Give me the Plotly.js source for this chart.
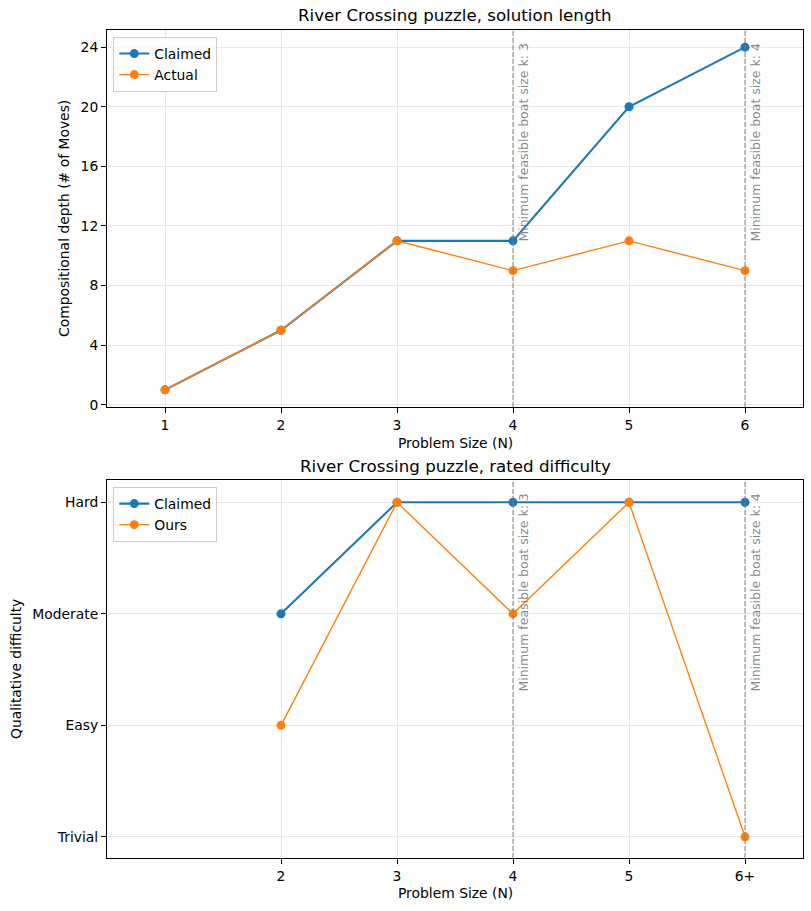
<!DOCTYPE html>
<html>
<head>
<meta charset="utf-8">
<script src="https://cdn.plot.ly/plotly-3.0.1.min.js"></script>
<style>
  html, body { margin: 0; padding: 0; background: #ffffff; }
  #chart { width: 811px; height: 911px; }
</style>
</head>
<body>
<div id="chart"></div>
<script>
// Solution length (number of moves) per problem size
const problemSizes = [1, 2, 3, 4, 5, 6];
const claimedMoves = [1, 5, 11, 11, 20, 24];
const actualMoves = [1, 5, 11, 9, 11, 9];

// Qualitative difficulty per problem size (0 = Trivial ... 3 = Hard)
const difficultySizes = [2, 3, 4, 5, 6];
const difficultySizeLabels = ['2', '3', '4', '5', '6+'];
const difficultyLevels = [0, 1, 2, 3];
const difficultyLabels = ['Trivial', 'Easy', 'Moderate', 'Hard'];
const claimedDifficulty = [2, 3, 3, 3, 3];
const oursDifficulty = [1, 3, 2, 3, 0];

// Sizes where the minimum feasible boat capacity changes
const boatThresholds = [4, 6];
const boatCapacities = [3, 4];

const depthTicks = [0, 4, 8, 12, 16, 20, 24];

const BLUE = '#1f77b4';
const ORANGE = '#ff7f0e';
const FONT = 'DejaVu Sans, sans-serif';
const GRID = '#e6e6e6';
const REFGRAY = 'rgba(128,128,128,0.8)';
const PT = 100 / 72;   // pixels per point
const MARKER = 9;

const traces = [
  {x: problemSizes, y: claimedMoves, name: 'Claimed', mode: 'lines+markers',
   line: {color: BLUE, width: 1.5 * PT}, marker: {color: BLUE, size: MARKER},
   xaxis: 'x', yaxis: 'y', legend: 'legend'},
  {x: problemSizes, y: actualMoves, name: 'Actual', mode: 'lines+markers',
   line: {color: ORANGE, width: 1 * PT}, marker: {color: ORANGE, size: MARKER},
   xaxis: 'x', yaxis: 'y', legend: 'legend'},
  {x: difficultySizes, y: claimedDifficulty, name: 'Claimed', mode: 'lines+markers',
   line: {color: BLUE, width: 1.5 * PT}, marker: {color: BLUE, size: MARKER},
   xaxis: 'x2', yaxis: 'y2', legend: 'legend2'},
  {x: difficultySizes, y: oursDifficulty, name: 'Ours', mode: 'lines+markers',
   line: {color: ORANGE, width: 1 * PT}, marker: {color: ORANGE, size: MARKER},
   xaxis: 'x2', yaxis: 'y2', legend: 'legend2'}
];

const axisCommon = {
  showline: true, linecolor: '#000', linewidth: 1, mirror: true,
  ticks: 'outside', ticklen: 5, tickwidth: 1, tickcolor: '#000',
  showgrid: true, gridcolor: GRID, gridwidth: 1, zeroline: false,
  tickfont: {family: FONT, size: 10 * PT, color: '#000'}
};

const shapes = [];
const annotations = [];
['x', 'x2'].forEach((xr, i) => {
  const yr = i === 0 ? 'y domain' : 'y2 domain';
  boatThresholds.forEach((t, j) => {
    shapes.push({type: 'line', xref: xr, yref: yr, x0: t, x1: t, y0: 0, y1: 1,
      line: {color: REFGRAY, width: 1.2, dash: '5px,2px'}, layer: 'above'});
    annotations.push({xref: xr, yref: yr, x: t, y: 0.968, xanchor: 'left', yanchor: 'top',
      xshift: 1, textangle: -90, showarrow: false,
      text: 'Minimum feasible boat size k: ' + boatCapacities[j],
      font: {family: FONT, size: 9 * PT, color: 'rgba(128,128,128,0.95)'}});
  });
});

const textAnn = (text, x, y, size, angle) => ({
  xref: 'paper', yref: 'paper', x: x, y: y, xanchor: 'center', yanchor: 'middle',
  text: text, showarrow: false, textangle: angle || 0,
  font: {family: FONT, size: size, color: '#000'}
});
annotations.push(
  textAnn('River Crossing puzzle, solution length', 0.5, 1.0175, 12 * PT),
  textAnn('River Crossing puzzle, rated difficulty', 0.5, 0.4734, 12 * PT),
  textAnn('Problem Size (N)', 0.5, 0.5012, 10 * PT),
  textAnn('Problem Size (N)', 0.5, -0.0423, 10 * PT),
  textAnn('Compositional depth (# of Moves)', -0.0618, 0.7729, 10 * PT, -90),
  textAnn('Qualitative difficulty', -0.1307, 0.2283, 10 * PT, -90)
);

const legendCommon = {
  x: 0.009, xanchor: 'left', yanchor: 'top',
  bgcolor: 'rgba(255,255,255,0.8)', bordercolor: '#cccccc', borderwidth: 1,
  font: {family: FONT, size: 10 * PT, color: '#000'}, tracegroupgap: 0
};

const layout = {
  width: 811, height: 911,
  margin: {l: 107, r: 8, t: 30, b: 53},
  paper_bgcolor: '#fff', plot_bgcolor: '#fff',
  font: {family: FONT, color: '#000'},
  showlegend: true,
  xaxis: Object.assign({}, axisCommon, {domain: [0, 1], range: [0.5, 6.5],
    tickvals: problemSizes, anchor: 'y'}),
  yaxis: Object.assign({}, axisCommon, {domain: [0.5447, 1], range: [-0.15, 25.15],
    tickvals: depthTicks, anchor: 'x'}),
  xaxis2: Object.assign({}, axisCommon, {domain: [0, 1], range: [0.5, 6.5],
    tickvals: difficultySizes, ticktext: difficultySizeLabels, anchor: 'y2'}),
  yaxis2: Object.assign({}, axisCommon, {domain: [0, 0.4565], range: [-0.19, 3.2],
    tickvals: difficultyLevels, ticktext: difficultyLabels, anchor: 'x2'}),
  legend: Object.assign({}, legendCommon, {y: 0.9915}),
  legend2: Object.assign({}, legendCommon, {y: 0.448}),
  shapes: shapes,
  annotations: annotations
};

Plotly.newPlot('chart', traces, layout, {displayModeBar: false, staticPlot: true});
</script>
</body>
</html>
